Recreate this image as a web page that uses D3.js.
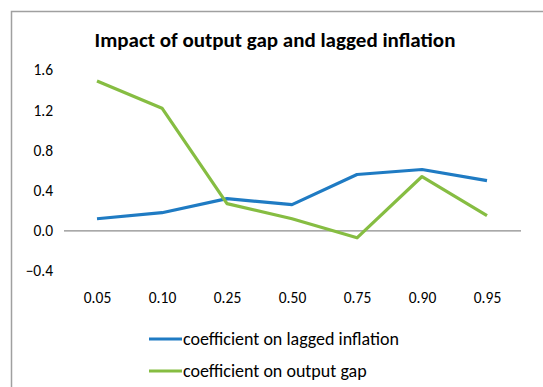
<!DOCTYPE html>
<html>
<head>
<meta charset="utf-8">
<script src="https://cdn.jsdelivr.net/npm/d3@7"></script>
<style>
  html, body { margin: 0; padding: 0; background: #fff; }
  svg { display: block; }
</style>
</head>
<body>
<svg id="chart" width="543" height="387"></svg>
<script>
// Quantiles on the x axis and the two estimated coefficients per quantile
const quantiles = ["0.05", "0.10", "0.25", "0.50", "0.75", "0.90", "0.95"];
const laggedInflation = [0.12, 0.18, 0.32, 0.26, 0.56, 0.61, 0.50];
const outputGap = [1.49, 1.22, 0.27, 0.12, -0.07, 0.54, 0.15];
const yTicks = [-0.4, 0.0, 0.4, 0.8, 1.2, 1.6];
const seriesNames = ["coefficient on lagged inflation", "coefficient on output  gap"];
const seriesColors = ["#1f7bc3", "#86bd42"];

const font = "Carlito, 'Open Sans', 'Liberation Sans', sans-serif";
const svg = d3.select("#chart");

// Outer frame of the chart area
svg.append("rect")
  .attr("x", 11.5).attr("y", 11.5)
  .attr("width", 560).attr("height", 400)
  .attr("fill", "#fff").attr("stroke", "#a0a0a0").attr("stroke-width", 1.5);

// Title
svg.append("text")
  .attr("x", 275).attr("y", 47)
  .attr("text-anchor", "middle")
  .style("font-family", font).style("font-weight", "bold").style("font-size", "21px")
  .attr("fill", "#000")
  .text("Impact of output gap and lagged inflation");

const x = d3.scalePoint().domain(quantiles).range([97, 487]);
const y = d3.scaleLinear().domain([-0.4, 1.6]).range([271, 70]);

// Y axis labels (no axis line)
const yAxis = svg.append("g")
  .attr("transform", "translate(53,0)")
  .call(d3.axisLeft(y).tickValues(yTicks).tickFormat(d3.format(".1f")).tickSize(0).tickPadding(0));
yAxis.select(".domain").remove();
yAxis.selectAll("text")
  .style("font-family", font).style("font-size", "15.5px").attr("fill", "#000");

// Zero line acting as the category axis
svg.append("line")
  .attr("x1", 64).attr("x2", 521)
  .attr("y1", y(0)).attr("y2", y(0))
  .attr("stroke", "#8c8c8c").attr("stroke-width", 1.3);

// Category labels along the bottom
const xAxis = svg.append("g")
  .attr("transform", "translate(0,292)")
  .call(d3.axisBottom(x).tickSize(0).tickPadding(0));
xAxis.select(".domain").remove();
xAxis.selectAll("text")
  .style("font-family", font).style("font-size", "15.5px").attr("fill", "#000");

// Series lines
const line = d3.line()
  .x((d, i) => x(quantiles[i]))
  .y(d => y(d));

[laggedInflation, outputGap].forEach((vals, k) => {
  svg.append("path")
    .datum(vals)
    .attr("d", line)
    .attr("fill", "none")
    .attr("stroke", seriesColors[k])
    .attr("stroke-width", 3.2)
    .attr("stroke-linejoin", "round");
});

// Legend
const legend = svg.append("g");
seriesNames.forEach((name, k) => {
  const ly = 339 + k * 32;
  legend.append("line")
    .attr("x1", 149).attr("x2", 182)
    .attr("y1", ly).attr("y2", ly)
    .attr("stroke", seriesColors[k]).attr("stroke-width", 3.2);
  legend.append("text")
    .attr("x", 183).attr("y", ly + 6)
    .style("font-family", font).style("font-size", "18px")
    .attr("fill", "#000")
    .text(name);
});
</script>
</body>
</html>
